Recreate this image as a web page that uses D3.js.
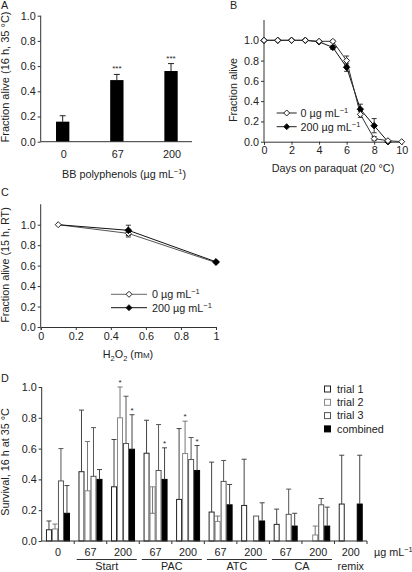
<!DOCTYPE html>
<html><head><meta charset="utf-8">
<script src="https://cdn.jsdelivr.net/npm/d3@7"></script>
<style>
body{margin:0;background:#fff;}
svg{display:block;font-family:"Liberation Sans",Arial,sans-serif;}
text{fill:#222;}
</style></head>
<body>
<svg id="c" width="412" height="572"></svg>
<script>
// ---------- DATA ----------
// Panel A
const aCategories = ["0", "67", "200"];
const aValues = [0.159, 0.489, 0.561];
const aErrTop = [0.206, 0.534, 0.62];
const aStars = ["", "***", "***"];
const yTicks = [0, 0.2, 0.4, 0.6, 0.8, 1.0];

// Panel B
const bDays = [0, 1, 2, 3, 4, 5, 6, 7, 8, 9, 10];
const bCtrl = [1, 1, 1, 1, 0.99, 0.99, 0.80, 0.27, 0.03, 0.01, 0.0];
const bCtrlErr = [0, 0, 0, 0, 0, 0.01, 0.045, 0.03, 0.02, 0, 0];
const bDays200 = [0, 1, 2, 3, 4, 5, 6, 7, 8, 9];
const b200 = [1, 1, 1, 1, 0.985, 0.93, 0.734, 0.32, 0.158, 0.0];
const b200Err = [0, 0, 0, 0, 0, 0.02, 0.04, 0.05, 0.07, 0];
const bXTicks = [0, 2, 4, 6, 8, 10];

// Panel C
const cDose = [0.1, 0.5, 1];
const cCtrl = [1.0, 0.915, 0.63];
const cCtrlErr = [0, 0.035, 0.01];
const c200 = [1.0, 0.945, 0.637];
const c200Err = [0, 0.05, 0.01];
const cXTicks = [0, 0.2, 0.4, 0.6, 0.8, 1];
const cXTickLabels = ["0", "0.2", "0.4", "0.6", "0.8", "1"];

// Panel D
const dGroups = ["g0", "s67", "s200", "p67", "p200", "a67", "a200", "c67", "c200", "r200"];
const dTickLabels = ["0", "67", "200", "67", "200", "67", "200", "67", "200", "200"];
const dSeries = ["trial 1", "trial 2", "trial 3", "combined"];
const trial1 = [0.073, 0.45, 0.352, 0.57, 0.27, 0.188, 0.231, 0.108, null, 0.24];
const trial1ErrEnd = [0.13, 0.85, 0.659, 0.784, 0.73, 0.512, 0.531, 0.207, null, 0.557];
const trial2 = [0.078, 0.326, 0.80, 0.352, 0.568, 0.127, null, null, 0.039, null];
const trial2ErrEnd = [0.11, 0.646, 1.0, 0.18, 0.778, 0.162, null, null, 0.097, null];
const trial3 = [0.39, 0.42, 0.633, 0.458, 0.529, 0.387, 0.162, 0.173, 0.235, null];
const trial3ErrEnd = [0.60, 0.736, 0.94, 0.756, 0.672, 0.523, null, 0.337, 0.276, null];
const combined = [0.18, 0.40, 0.596, 0.40, 0.458, 0.235, 0.13, 0.097, 0.097, 0.24];
const combinedErrEnd = [0.36, 0.464, 0.82, 0.605, 0.62, 0.367, 0.248, 0.18, 0.22, 0.557];
const trial2Stars = ["", "", "*", "", "*", "", "", "", "", ""];
const combinedStars = ["", "", "*", "*", "*", "", "", "", "", ""];
const dBrackets = [
  {label: "Start", from: "s67", to: "s200", line: true},
  {label: "PAC", from: "p67", to: "p200", line: true},
  {label: "ATC", from: "a67", to: "a200", line: true},
  {label: "CA", from: "c67", to: "c200", line: true},
  {label: "remix", from: "r200", to: "r200", line: false}
];

// ---------- HELPERS ----------
const svg = d3.select("#c");
const FS = 10.8;
const diamondPath = r => `M0,${-r}L${r},0L0,${r}L${-r},0Z`;

function unitLabel(sel, prefix, suffix) {
  sel.append("tspan").text(prefix + "µg mL");
  sel.append("tspan").attr("font-size", 7.5).attr("dy", -4).text("−1");
  sel.append("tspan").attr("dy", 4).text(suffix || "");
}

function yAxis(g, y, x0, topVal) {
  const ax = g.append("g").attr("transform", `translate(${x0},0)`)
    .call(d3.axisLeft(y).tickValues(yTicks).tickSize(3).tickPadding(2).tickFormat(d3.format(".1f")));
  ax.select(".domain").remove();
  ax.selectAll("line").attr("stroke", "#333");
  ax.selectAll("text").attr("font-size", FS).attr("fill", "#222").attr("font-family", "Liberation Sans, Arial");
  g.append("line").attr("x1", x0).attr("x2", x0).attr("y1", y(0)).attr("y2", y(topVal)).attr("stroke", "#333");
}

function errBar(g, x, y1, y2, cap, color) {
  g.append("line").attr("x1", x).attr("x2", x).attr("y1", y1).attr("y2", y2).attr("stroke", color).attr("stroke-width", 1);
  g.append("line").attr("x1", x - cap / 2).attr("x2", x + cap / 2).attr("y1", y2).attr("y2", y2).attr("stroke", color).attr("stroke-width", 1);
}

// ---------- PANEL A ----------
{
  const g = svg.append("g");
  const x = d3.scaleBand().domain(aCategories).range([35.6, 198.1]).paddingInner(0.754).paddingOuter(0.377);
  const y = d3.scaleLinear().domain([0, 1]).range([141.7, 15.7]);
  g.append("text").attr("x", 1).attr("y", 9).attr("font-size", FS).text("A");
  aCategories.forEach((c, i) => {
    const cx = x(c) + x.bandwidth() / 2;
    errBar(g, cx, y(aValues[i]), y(aErrTop[i]), 6, "#222");
    if (aStars[i]) g.append("text").attr("x", cx).attr("y", y(aErrTop[i]) - 3).attr("text-anchor", "middle").attr("font-size", 8).text(aStars[i]);
  });
  g.selectAll("rect.a").data(aValues).join("rect")
    .attr("x", (d, i) => x(aCategories[i])).attr("width", x.bandwidth())
    .attr("y", d => y(d)).attr("height", d => y(0) - y(d)).attr("fill", "#000");
  yAxis(g, y, 40.7, 1.0);
  g.append("line").attr("x1", 40.7).attr("x2", 192).attr("y1", y(0)).attr("y2", y(0)).attr("stroke", "#333");
  aCategories.forEach((c, i) => {
    g.append("text").attr("x", x(c) + x.bandwidth() / 2 + 1).attr("y", 158).attr("text-anchor", "middle").attr("font-size", FS).text(c);
  });
  const t = g.append("text").attr("x", 124).attr("y", 178).attr("text-anchor", "middle").attr("font-size", FS);
  unitLabel(t, "BB polyphenols (", ")");
  g.append("text").attr("transform", "translate(8.5,77) rotate(-90)").attr("text-anchor", "middle").attr("font-size", 11)
    .text("Fraction alive (16 h, 35 °C)");
}

// ---------- PANEL B ----------
{
  const g = svg.append("g");
  const x = d3.scaleLinear().domain([0, 10]).range([264, 401.7]);
  const y = d3.scaleLinear().domain([0, 1]).range([141.7, 40.3]);
  g.append("text").attr("x", 230).attr("y", 9).attr("font-size", FS).text("B");
  yAxis(g, y, 264, 1.2);
  const xa = g.append("g").attr("transform", `translate(0,${y(0)})`)
    .call(d3.axisBottom(x).tickValues(bXTicks).tickSize(3).tickPadding(2));
  xa.select(".domain").attr("stroke", "#333");
  xa.selectAll("line").attr("stroke", "#333");
  xa.selectAll("text").attr("font-size", FS).attr("fill", "#222").attr("font-family", "Liberation Sans, Arial");
  const line = d3.line().x(d => x(d[0])).y(d => y(d[1]));
  const s200 = bDays200.map((d, i) => [d, b200[i], b200Err[i]]);
  const sCtrl = bDays.map((d, i) => [d, bCtrl[i], bCtrlErr[i]]);
  [s200, sCtrl].forEach(s => s.forEach(p => {
    if (p[2] > 0) {
      const cx = x(p[0]);
      errBar(g, cx, y(p[1]), y(p[1] + p[2]), 5, "#333");
      errBar(g, cx, y(p[1]), y(p[1] - p[2]), 5, "#333");
    }
  }));
  g.append("path").datum(s200).attr("d", line).attr("fill", "none").attr("stroke", "#111").attr("stroke-width", 1);
  g.append("path").datum(sCtrl).attr("d", line).attr("fill", "none").attr("stroke", "#333").attr("stroke-width", 1);
  g.selectAll("path.f").data(s200).join("path").attr("class", "f").attr("d", diamondPath(3.2))
    .attr("transform", d => `translate(${x(d[0])},${y(d[1])})`).attr("fill", "#000").attr("stroke", "#000");
  g.selectAll("path.o").data(sCtrl).join("path").attr("class", "o").attr("d", diamondPath(3))
    .attr("transform", d => `translate(${x(d[0])},${y(d[1])})`).attr("fill", "#fff").attr("stroke", "#222");
  [[113, "#fff", "0 "], [126.7, "#000", "200 "]].forEach(([ly, fill, pre]) => {
    g.append("line").attr("x1", 276.7).attr("x2", 296.7).attr("y1", ly).attr("y2", ly).attr("stroke", "#222");
    g.append("path").attr("d", diamondPath(3)).attr("transform", `translate(286.7,${ly})`).attr("fill", fill).attr("stroke", "#222");
    const t = g.append("text").attr("x", 300.5).attr("y", ly + 3.8).attr("font-size", FS);
    unitLabel(t, pre, "");
  });
  g.append("text").attr("x", 333).attr("y", 172).attr("text-anchor", "middle").attr("font-size", FS).text("Days on paraquat (20 °C)");
  g.append("text").attr("transform", "translate(237,90) rotate(-90)").attr("text-anchor", "middle").attr("font-size", FS).text("Fraction alive");
}

// ---------- PANEL C ----------
{
  const g = svg.append("g");
  const x = d3.scaleLinear().domain([0, 1]).range([40.7, 216]);
  const y = d3.scaleLinear().domain([0, 1]).range([327, 224.7]);
  g.append("text").attr("x", 1).attr("y", 196).attr("font-size", FS).text("C");
  yAxis(g, y, 40.7, 1.2);
  const xa = g.append("g").attr("transform", `translate(0,${y(0)})`)
    .call(d3.axisBottom(x).tickValues(cXTicks).tickSize(3).tickPadding(2).tickFormat((d, i) => cXTickLabels[i]));
  xa.select(".domain").attr("stroke", "#333");
  xa.selectAll("line").attr("stroke", "#333");
  xa.selectAll("text").attr("font-size", FS).attr("fill", "#222").attr("font-family", "Liberation Sans, Arial");
  const line = d3.line().x(d => x(d[0])).y(d => y(d[1]));
  const sC = cDose.map((d, i) => [d, cCtrl[i], cCtrlErr[i]]);
  const s2 = cDose.map((d, i) => [d, c200[i], c200Err[i]]);
  [sC, s2].forEach(s => s.forEach(p => {
    if (p[2] > 0.02) {
      errBar(g, x(p[0]), y(p[1]), y(p[1] + p[2]), 5, "#333");
      errBar(g, x(p[0]), y(p[1]), y(p[1] - p[2]), 5, "#333");
    }
  }));
  g.append("path").datum(sC).attr("d", line).attr("fill", "none").attr("stroke", "#555");
  g.append("path").datum(s2).attr("d", line).attr("fill", "none").attr("stroke", "#111");
  g.selectAll("path.o").data(sC).join("path").attr("class", "o").attr("d", diamondPath(3))
    .attr("transform", d => `translate(${x(d[0])},${y(d[1])})`).attr("fill", "#fff").attr("stroke", "#222");
  g.selectAll("path.f").data(s2.slice(1)).join("path").attr("class", "f").attr("d", diamondPath(3.3))
    .attr("transform", d => `translate(${x(d[0])},${y(d[1])})`).attr("fill", "#000").attr("stroke", "#000");
  [[294.3, "#fff", "#666", "0 "], [307.7, "#000", "#111", "200 "]].forEach(([ly, fill, lc, pre]) => {
    g.append("line").attr("x1", 111).attr("x2", 147).attr("y1", ly).attr("y2", ly).attr("stroke", lc);
    g.append("path").attr("d", diamondPath(3)).attr("transform", `translate(129,${ly})`).attr("fill", fill).attr("stroke", "#222");
    const t = g.append("text").attr("x", 152).attr("y", ly + 3.8).attr("font-size", FS);
    unitLabel(t, pre, "");
  });
  const t = g.append("text").attr("x", 128).attr("y", 358).attr("text-anchor", "middle").attr("font-size", FS);
  t.append("tspan").text("H");
  t.append("tspan").attr("font-size", 7.5).attr("dy", 2.5).text("2");
  t.append("tspan").attr("dy", -2.5).text("O");
  t.append("tspan").attr("font-size", 7.5).attr("dy", 2.5).text("2");
  t.append("tspan").attr("dy", -2.5).text(" (m");
  t.append("tspan").attr("font-size", 8).text("M");
  t.append("tspan").text(")");
  g.append("text").attr("transform", "translate(8.5,265) rotate(-90)").attr("text-anchor", "middle").attr("font-size", FS)
    .text("Fraction alive (15 h, RT)");
}

// ---------- PANEL D ----------
{
  const g = svg.append("g");
  const x = d3.scaleBand().domain(dGroups).range([41.7, 367]).paddingInner(0.262).paddingOuter(0.131);
  const xs = d3.scaleBand().domain(dSeries).range([0, x.bandwidth()]);
  const y = d3.scaleLinear().domain([0, 1]).range([541, 387]);
  g.append("text").attr("x", 1).attr("y", 382).attr("font-size", FS).text("D");
  const seriesData = [
    {name: "trial 1", v: trial1, e: trial1ErrEnd, fill: "#fff", stroke: "#222", ec: "#444"},
    {name: "trial 2", v: trial2, e: trial2ErrEnd, fill: "#fff", stroke: "#888", ec: "#777"},
    {name: "trial 3", v: trial3, e: trial3ErrEnd, fill: "#fff", stroke: "#555", ec: "#555"},
    {name: "combined", v: combined, e: combinedErrEnd, fill: "#000", stroke: "#000", ec: "#444"}
  ];
  seriesData.forEach(s => {
    const pts = dGroups.map((gname, i) => ({g: gname, v: s.v[i], e: s.e[i]})).filter(d => d.v != null);
    g.selectAll(null).data(pts).join("rect")
      .attr("x", d => x(d.g) + xs(s.name) + 0.5).attr("width", xs.bandwidth() - 1)
      .attr("y", d => y(d.v)).attr("height", d => y(0) - y(d.v))
      .attr("fill", s.fill).attr("stroke", s.stroke).attr("stroke-width", 1);
    pts.forEach(d => {
      if (d.e != null) errBar(g, x(d.g) + xs(s.name) + xs.bandwidth() / 2, y(d.v), y(d.e), 5, s.ec);
    });
  });
  const starSets = [["trial 2", trial2ErrEnd, trial2Stars], ["combined", combinedErrEnd, combinedStars]];
  starSets.forEach(([name, ends, stars]) => {
    dGroups.forEach((gname, i) => {
      if (stars[i]) g.append("text").attr("x", x(gname) + xs(name) + xs.bandwidth() / 2).attr("y", y(ends[i]) - 2)
        .attr("text-anchor", "middle").attr("font-size", 8).text(stars[i]);
    });
  });
  yAxis(g, y, 41.7, 1.0);
  g.append("line").attr("x1", 41.7).attr("x2", 367).attr("y1", y(0)).attr("y2", y(0)).attr("stroke", "#333");
  dGroups.forEach((gname, i) => {
    const edge = x(gname) + x.bandwidth() + x.step() * x.paddingInner() / 2;
    g.append("line").attr("x1", edge).attr("x2", edge).attr("y1", y(0)).attr("y2", y(0) + 3).attr("stroke", "#333");
    g.append("text").attr("x", x(gname) + x.bandwidth() / 2).attr("y", 555.5).attr("text-anchor", "middle").attr("font-size", FS).text(dTickLabels[i]);
  });
  const ut = g.append("text").attr("x", 374).attr("y", 555.5).attr("font-size", FS);
  unitLabel(ut, "", "");
  dBrackets.forEach(b => {
    const x1 = x(b.from) - x.step() * x.paddingInner() / 2 + 2.5;
    const x2 = x(b.to) + x.bandwidth() + x.step() * x.paddingInner() / 2 - 2.5;
    if (b.line) g.append("line").attr("x1", x1).attr("x2", x2).attr("y1", 559.5).attr("y2", 559.5).attr("stroke", "#333");
    g.append("text").attr("x", (x1 + x2) / 2).attr("y", 570).attr("text-anchor", "middle").attr("font-size", FS).text(b.label);
  });
  seriesData.forEach((s, i) => {
    const ly = 389 + i * 13.3;
    g.append("rect").attr("x", 324.5).attr("y", ly - 3).attr("width", 6).attr("height", 6)
      .attr("fill", s.fill).attr("stroke", s.stroke);
    g.append("text").attr("x", 337).attr("y", ly + 3.8).attr("font-size", FS).text(s.name);
  });
  g.append("text").attr("transform", "translate(8.5,462) rotate(-90)").attr("text-anchor", "middle").attr("font-size", FS)
    .text("Survival, 16 h at 35 °C");
}
</script>
</body></html>
